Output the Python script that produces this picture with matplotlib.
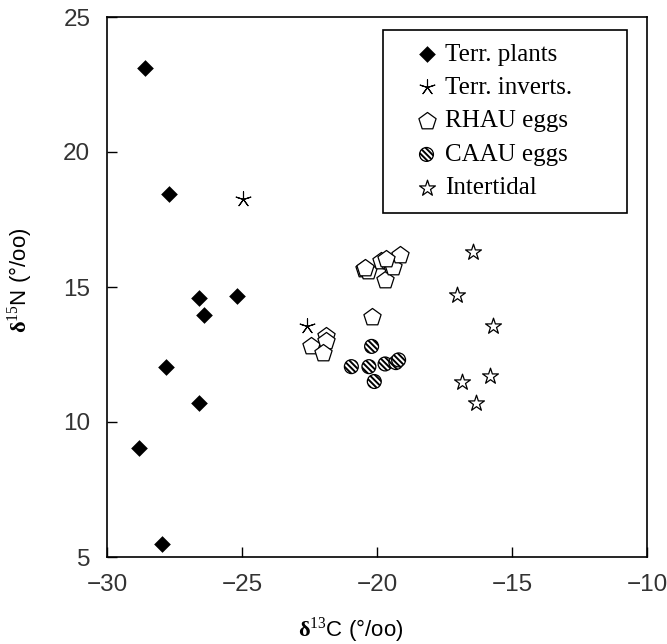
import matplotlib.pyplot as plt
from matplotlib.patches import Rectangle

plt.rcParams['mathtext.fontset'] = 'custom'
plt.rcParams['mathtext.rm'] = 'Liberation Serif'
plt.rcParams['mathtext.bf'] = 'Liberation Serif:bold'
plt.rcParams['hatch.linewidth'] = 1.4

# d13C / d15N values
plants_x = [-28.6, -27.7, -26.6, -26.4, -25.2, -26.6, -28.8, -27.8, -27.95]
plants_y = [23.1, 18.45, 14.6, 13.95, 14.65, 10.7, 9.05, 12.05, 5.5]

inverts_x = [-24.95, -22.6]
inverts_y = [18.25, 13.55]

rhau_x = [-20.5, -20.35, -20.45, -19.7, -19.85, -19.6, -19.5, -19.4, -19.15,
          -19.65, -20.2, -22.45, -21.9, -21.9, -22.0]
rhau_y = [15.65, 15.6, 15.7, 15.25, 15.95, 15.95, 15.8, 15.75, 16.2,
          16.05, 13.9, 12.8, 13.2, 13.0, 12.55]

caau_x = [-20.2, -20.95, -20.3, -19.7, -19.3, -19.2, -20.1]
caau_y = [12.8, 12.05, 12.05, 12.15, 12.2, 12.3, 11.5]

tidal_x = [-16.45, -17.05, -15.7, -16.85, -15.8, -16.35]
tidal_y = [16.3, 14.7, 13.55, 11.5, 11.7, 10.7]

W, H = 667, 644
fig = plt.figure(figsize=(W/100, H/100), dpi=100)
ax = fig.add_axes([107/W, 1 - 557/H, 540/W, 540/H])

ax.scatter(plants_x, plants_y, marker='D', s=8.5**2, c='black',
           linewidths=0, label='Terr. plants', zorder=3)
ax.scatter(inverts_x, inverts_y, marker=(5, 2, 0), s=11**2, c='black',
           linewidths=0.8, label='Terr. inverts.', zorder=3)
ax.scatter(rhau_x, rhau_y, marker='p', s=13**2, facecolors='white',
           edgecolors='black', linewidths=0.9, label='RHAU eggs', zorder=3)
ax.scatter(caau_x, caau_y, marker='o', s=10**2, facecolors='white',
           edgecolors='black', linewidths=0.9, hatch='\\\\\\\\\\\\',
           label='CAAU eggs', zorder=3)
ax.scatter(tidal_x, tidal_y, marker='*', s=12**2, facecolors='white',
           edgecolors='black', linewidths=0.9, label='Intertidal', zorder=3)

ax.set_xlim(-30, -10)
ax.set_ylim(5, 25)
ax.set_xticks([-30, -25, -20, -15, -10])
ax.set_yticks([5, 10, 15, 20, 25])
ax.set_xticklabels(['\u221230', '\u221225', '\u221220', '\u221215', '\u221210'])
ax.tick_params(direction='in', length=7, width=1, pad=12,
               labelsize=17.5, labelcolor='#333333')
for lab in ax.get_xticklabels() + ax.get_yticklabels():
    lab.set_family('Liberation Sans')
for sp in ax.spines.values():
    sp.set_linewidth(1.2)

# legend box drawn separately, entries placed inside it
ax.add_patch(Rectangle((383/W, 1 - 213/H), 244/W, 183/H,
                       transform=fig.transFigure, facecolor='white',
                       edgecolor='black', linewidth=1.2, zorder=4,
                       clip_on=False))
leg = ax.legend(loc='upper left', bbox_to_anchor=(414/W, 1 - 43/H),
                bbox_transform=fig.transFigure, borderaxespad=0,
                prop={'family': 'Liberation Serif', 'size': 18},
                frameon=False, handlelength=1.0, handletextpad=0.25,
                labelspacing=0.44, borderpad=0, scatterpoints=1)
leg.set_zorder(5)

fig.text(351/W, 1 - 630/H, r'$\mathbf{\delta}^{\mathrm{13}}$C (°/oo)',
         ha='center', va='center', fontsize=16, family='Liberation Sans')
fig.text(20/W, 1 - 280/H, r'$\mathbf{\delta}^{\mathrm{15}}$N (°/oo)',
         ha='center', va='center', rotation=90, fontsize=16,
         family='Liberation Sans')

fig.savefig('out.png', dpi=100)
